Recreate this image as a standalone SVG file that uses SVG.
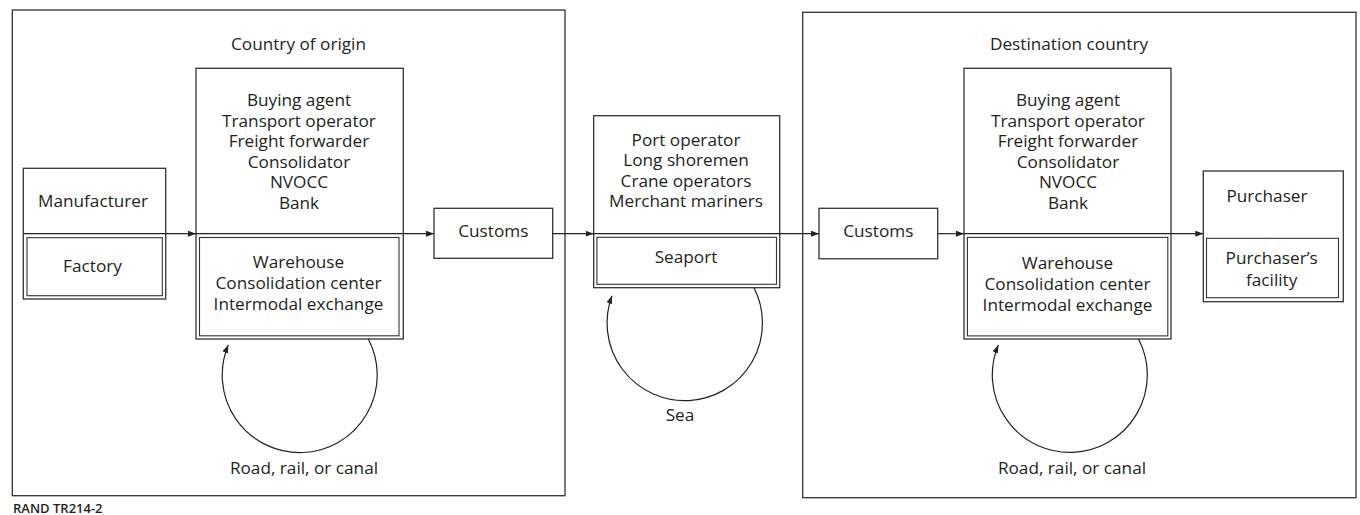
<svg xmlns="http://www.w3.org/2000/svg" width="1360" height="515" viewBox="0 0 1360 515">
<defs>
<marker id="ah" viewBox="0 0 8 6" refX="8" refY="3" markerWidth="8" markerHeight="6" markerUnits="userSpaceOnUse" orient="auto">
<path d="M0,0 L8,3 L0,6 z" fill="#222"/>
</marker>
<style>
.box{fill:none;stroke:#333;stroke-width:1.3}
.in{fill:none;stroke:#333;stroke-width:1.1}
.t{font-family:"Open Sans","Noto Sans","Liberation Sans",sans-serif;font-size:17.2px;fill:#231f20;text-anchor:middle}
.c{fill:none;stroke:#222;stroke-width:1.2}
.foot{font-family:"Open Sans","Liberation Sans",sans-serif;font-size:13px;font-weight:600;fill:#231f20}
</style>
</defs>
<rect width="1360" height="515" fill="#fff"/>

<g id="origin-frame">
<rect class="box" x="12.3" y="10" width="552.7" height="485.7"/>
<text class="t" x="298.5" y="50">Country of origin</text>
</g>

<g id="destination-frame">
<rect class="box" x="802.7" y="12.3" width="553.3" height="485.4"/>
<text class="t" x="1069" y="49.5">Destination country</text>
</g>

<g id="manufacturer">
<rect class="box" x="23.3" y="168.3" width="142.4" height="130.7"/>
<rect class="in" x="27" y="237.7" width="135.3" height="58"/>
<text class="t" x="93" y="206.7">Manufacturer</text>
<text class="t" x="92.5" y="271.7">Factory</text>
</g>

<g id="origin-agents">
<rect class="box" x="196" y="68.3" width="207.3" height="270.7"/>
<rect class="in" x="199.5" y="237.5" width="199.5" height="98.3"/>
<text class="t" x="299" y="106">Buying agent</text>
<text class="t" x="299" y="126.5">Transport operator</text>
<text class="t" x="299" y="147">Freight forwarder</text>
<text class="t" x="299" y="167.5">Consolidator</text>
<text class="t" x="299" y="188">NVOCC</text>
<text class="t" x="299" y="208.5">Bank</text>
<text class="t" x="298.5" y="268.3">Warehouse</text>
<text class="t" x="298.5" y="289.3">Consolidation center</text>
<text class="t" x="298.5" y="310.3">Intermodal exchange</text>
</g>

<g id="customs-origin">
<rect class="box" x="434" y="208.3" width="118.7" height="50"/>
<text class="t" x="493.3" y="237.3">Customs</text>
</g>

<g id="seaport">
<rect class="box" x="593.7" y="115.7" width="186" height="172"/>
<rect class="in" x="596.9" y="237.3" width="179.6" height="47"/>
<text class="t" x="686" y="145.7">Port operator</text>
<text class="t" x="686" y="166.2">Long shoremen</text>
<text class="t" x="686" y="186.7">Crane operators</text>
<text class="t" x="686" y="207">Merchant mariners</text>
<text class="t" x="686" y="263.3">Seaport</text>
</g>

<g id="customs-destination">
<rect class="box" x="819" y="208.3" width="118.7" height="50.5"/>
<text class="t" x="878.3" y="237.3">Customs</text>
</g>

<g id="destination-agents">
<rect class="box" x="964" y="68.3" width="207" height="270.7"/>
<rect class="in" x="967.4" y="237.4" width="200.4" height="98.5"/>
<text class="t" x="1068" y="106">Buying agent</text>
<text class="t" x="1068" y="126.5">Transport operator</text>
<text class="t" x="1068" y="147">Freight forwarder</text>
<text class="t" x="1068" y="167.5">Consolidator</text>
<text class="t" x="1068" y="188">NVOCC</text>
<text class="t" x="1068" y="208.5">Bank</text>
<text class="t" x="1067.5" y="269">Warehouse</text>
<text class="t" x="1067.5" y="290">Consolidation center</text>
<text class="t" x="1067.5" y="311">Intermodal exchange</text>
</g>

<g id="purchaser">
<rect class="box" x="1203.3" y="171" width="140" height="130.7"/>
<rect class="in" x="1206.5" y="238.3" width="132" height="59.4"/>
<text class="t" x="1267" y="201.7">Purchaser</text>
<text class="t" x="1271.7" y="264.3">Purchaser’s</text>
<text class="t" x="1271.7" y="286">facility</text>
</g>

<g id="connectors">
<path class="c" d="M23.3,233.7 H196" marker-end="url(#ah)"/>
<path class="c" d="M196,233.7 H434" marker-end="url(#ah)"/>
<path class="c" d="M552.7,233.7 H593.7" marker-end="url(#ah)"/>
<path class="c" d="M593.7,233.7 H819" marker-end="url(#ah)"/>
<path class="c" d="M937.7,233.7 H964" marker-end="url(#ah)"/>
<path class="c" d="M964,233.7 H1203.3" marker-end="url(#ah)"/>
<path class="c" d="M368.3,339 A77.5,77.5 0 1 1 228.3,345" marker-end="url(#ah)"/>
<path class="c" d="M754,287.7 A77.7,77.7 0 1 1 612,295.7" marker-end="url(#ah)"/>
<path class="c" d="M1138.5,339 A77.5,77.5 0 1 1 998.3,345" marker-end="url(#ah)"/>
</g>

<g id="loop-labels">
<text class="t" x="304" y="474">Road, rail, or canal</text>
<text class="t" x="680" y="421">Sea</text>
<text class="t" x="1072" y="474.3">Road, rail, or canal</text>
</g>

<text class="foot" x="13" y="512.5">RAND TR214-2</text>
</svg>
